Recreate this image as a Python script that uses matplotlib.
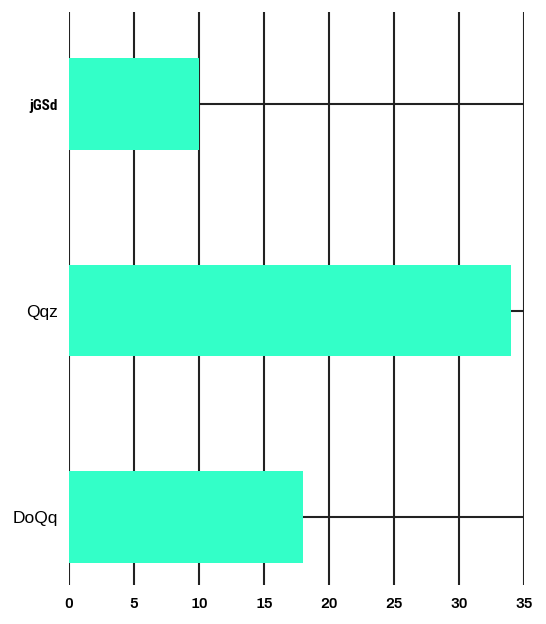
import matplotlib.pyplot as plt

categories = ['jGSd', 'Qqz', 'DoQq']
values = [10, 34, 18]
x_ticks = [0, 5, 10, 15, 20, 25, 30, 35]

fig = plt.figure(figsize=(5.46, 6.24), dpi=100)
ax = fig.add_axes([69 / 546, 1 - 585 / 624, (524 - 69) / 546, (585 - 12) / 624])

ypos = list(range(len(categories)))
ax.barh(ypos, values, height=0.445, color='#33FFC8', zorder=2)

ax.set_xlim(0, 35)
ax.set_ylim(2.329, -0.4455)
ax.set_xticks(x_ticks)
ax.set_xticklabels([str(t) for t in x_ticks], fontfamily='Archivo', fontweight='bold', fontsize=11)
ax.set_yticks(ypos)
ax.set_yticklabels(categories, fontfamily='Liberation Sans', fontsize=12.5)
lab = ax.get_yticklabels()[0]
lab.set_fontfamily('Roboto Condensed')
lab.set_fontweight('bold')
lab.set_fontsize(11)

ax.tick_params(axis='both', length=0)
ax.tick_params(axis='y', pad=8)
ax.tick_params(axis='x', pad=9)
ax.grid(True, color='#222222', linewidth=1.5, zorder=0)
ax.set_axisbelow(True)
for s in ax.spines.values():
    s.set_visible(False)

plt.savefig('out.png', dpi=100)
